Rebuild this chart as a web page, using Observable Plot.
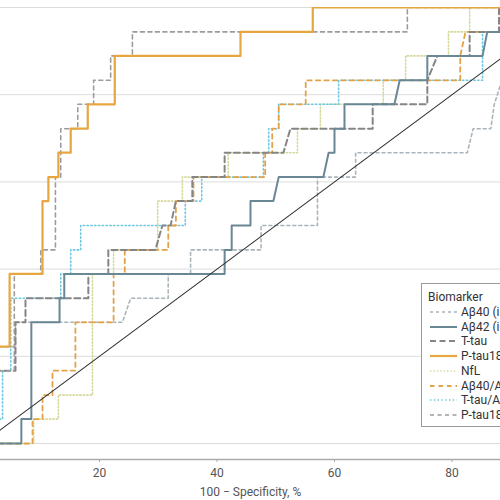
<!DOCTYPE html>
<html>
<head>
<meta charset="utf-8">
<script src="https://cdn.jsdelivr.net/npm/d3@7"></script>
<script src="https://cdn.jsdelivr.net/npm/@observablehq/plot@0.6"></script>
<style>
  html, body { margin: 0; padding: 0; background: #fff; }
  #wrap { position: relative; width: 500px; height: 500px; overflow: hidden; font-family: Roboto, "Open Sans", sans-serif; }
  #legend { position: absolute; left: 421px; top: 283px; width: 150px; height: 144px; border: 1px solid #9a9a9a; background: #fff; box-sizing: border-box; color: #333; font-size: 12px; }
  #legend .title { position: absolute; left: 6px; top: 5px; line-height: 16px; white-space: nowrap; }
  #legend .row { position: absolute; left: 0; height: 14px; line-height: 14px; white-space: nowrap; }
  #legend .row svg { position: absolute; left: 8px; top: 2px; }
  #legend .row span { position: absolute; left: 39px; top: 0; }
</style>
</head>
<body>
<div id="wrap"></div>
<script>
// Biomarker names (legend order)
const biomarkers = ["Aβ40 (immunoassay)", "Aβ42 (immunoassay)", "T-tau", "P-tau181", "NfL", "Aβ40/Aβ42", "T-tau/Aβ42", "P-tau181/Aβ42"];

// ROC curves: 100 - specificity (%) and sensitivity (%) at each vertex
const ab40X = [0,0,2.5,2.5,5.7,5.7,23.9,25.3,31.7,31.7,35.5,35.5,47.5,47.5,57.1,57.1,63.6,63.6,82.6,83.6,86.6,87.2,88.5,90,90,95,95,100];
const ab40Y = [0,11.1,11.1,22.2,22.2,27.8,27.8,33.3,33.3,38.9,38.9,44.4,44.4,50,50,61.1,61.1,66.7,66.7,72.2,72.2,77.8,83.3,83.3,94.4,94.4,100,100];

const ab42X = [0,6.7,6.7,8.4,8.4,13.2,13.2,14,14,41.3,41.3,42.5,42.5,45.7,45.7,49.6,50.5,58.1,59,60,60,61.7,61.7,70.2,71.1,75.8,75.8,85.2,86,90,90,100];
const ab42Y = [0,0,5.6,5.6,27.8,27.8,33.3,33.3,38.9,38.9,44.4,44.4,50,50,55.6,55.6,61.1,61.1,66.7,66.7,72.2,72.2,77.8,77.8,83.3,83.3,88.9,88.9,94.4,94.4,100,100];

const ttauX = [0,0,1.5,1.5,5.7,5.7,7.4,7.4,18.1,18.1,21.5,21.5,29.5,30.7,32.1,33,35.8,35.8,41.3,41.3,51.3,52.5,66.5,66.5,75.8,75.8,77.5,83,83,88,88,100];
const ttauY = [0,11.1,11.1,16.7,16.7,27.8,27.8,33.3,33.3,38.9,38.9,44.4,44.4,50,50,55.6,55.6,61.1,61.1,66.7,66.7,72.2,72.2,77.8,77.8,83.3,88.9,88.9,94.4,94.4,100,100];

const ptauX = [0,0,4.7,4.7,10.3,10.3,11.3,11.3,13,13,15.1,15.1,18,18,22.6,22.6,44,44,56.3,56.3,100];
const ptauY = [0,22.2,22.2,38.9,38.9,55.6,55.6,61.1,61.1,66.7,66.7,72.2,72.2,77.8,77.8,88.9,88.9,94.4,94.4,100,100];

const nflX = [0,8.8,8.8,13,13,18.8,18.8,22.4,22.4,29.9,29.9,34.1,34.1,41.9,41.9,53.7,53.7,57.6,57.6,68.3,68.3,72.1,72.1,79.4,79.4,83,83,100];
const nflY = [0,0,5.6,5.6,11.1,11.1,38.9,38.9,44.4,44.4,55.6,55.6,61.1,61.1,66.7,66.7,72.2,72.2,77.8,77.8,83.3,83.3,88.9,88.9,94.4,94.4,100,100];

const ratio4042X = [0,8.6,8.6,10.3,10.3,12,12,15.9,15.9,22.4,22.4,24.3,24.3,31.7,31.7,33,33,36,36,48.2,48.2,49.4,49.4,50.5,50.5,55.1,55.1,81.4,81.4,82.3,91,91,100];
const ratio4042Y = [0,0,5.6,5.6,11.1,11.1,16.7,16.7,27.8,27.8,38.9,38.9,44.4,44.4,50,50,55.6,55.6,61.1,61.1,66.7,66.7,72.2,72.2,77.8,77.8,83.3,83.3,88.9,94.4,94.4,100,100];

const ttauRatioX = [0,0,3.5,3.5,4.9,4.9,13.4,13.4,15.1,15.1,16.8,16.8,34.6,34.6,37.4,37.4,47.9,47.9,48.8,48.8,50.5,50.5,60.7,60.7,85.2,85.2,89,89,100];
const ttauRatioY = [0,5.6,5.6,16.7,16.7,33.3,33.3,38.9,38.9,44.4,44.4,50,50,55.6,55.6,61.1,61.1,66.7,66.7,72.2,72.2,77.8,77.8,83.3,83.3,94.4,94.4,100,100];

const ptauRatioX = [0,0,5.5,5.5,10,10,12.5,12.5,13.4,13.4,16.3,16.3,19,19,21.9,21.9,25.6,25.6,72.4,72.4,100];
const ptauRatioY = [0,16.7,16.7,38.9,38.9,44.4,44.4,61.1,61.1,72.2,72.2,77.8,77.8,83.3,83.3,88.9,88.9,94.4,94.4,100,100];

// Reference (chance) line
const refX = [0, 100];
const refY = [0, 100];

// Visible x tick labels (0 and 100 fall outside the cropped view)
const xTicks = [20, 40, 60, 80];
const yTicks = [0, 20, 40, 60, 80, 100];

// Line styles per biomarker
const styles = {
  "Aβ40 (immunoassay)": {stroke: "#aab4bb", width: 1.6, dash: "3,3"},
  "Aβ42 (immunoassay)": {stroke: "#6a8796", width: 2, dash: null},
  "T-tau":              {stroke: "#858585", width: 2, dash: "6,3.5"},
  "P-tau181":           {stroke: "#e7a63f", width: 2.2, dash: null},
  "NfL":                {stroke: "#d6d99c", width: 1.6, dash: "1.4,2"},
  "Aβ40/Aβ42":          {stroke: "#e3a248", width: 1.8, dash: "4.5,4"},
  "T-tau/Aβ42":         {stroke: "#6fc6e0", width: 1.6, dash: "1.4,2.4"},
  "P-tau181/Aβ42":      {stroke: "#9c9c9c", width: 1.6, dash: "4,3.5"}
};

function rows(xs, ys) { return xs.map((x, i) => ({x, y: ys[i]})); }
const curves = {
  "Aβ40 (immunoassay)": rows(ab40X, ab40Y),
  "Aβ42 (immunoassay)": rows(ab42X, ab42Y),
  "T-tau": rows(ttauX, ttauY),
  "P-tau181": rows(ptauX, ptauY),
  "NfL": rows(nflX, nflY),
  "Aβ40/Aβ42": rows(ratio4042X, ratio4042Y),
  "T-tau/Aβ42": rows(ttauRatioX, ttauRatioY),
  "P-tau181/Aβ42": rows(ptauRatioX, ptauRatioY)
};

function curveMark(name) {
  const s = styles[name];
  const opts = {x: "x", y: "y", stroke: s.stroke, strokeWidth: s.width, curve: "linear", clip: true};
  if (s.dash) opts.strokeDasharray = s.dash;
  return Plot.line(curves[name], opts);
}

const drawOrder = ["Aβ40 (immunoassay)", "NfL", "T-tau/Aβ42", "Aβ40/Aβ42", "T-tau", "P-tau181/Aβ42", "Aβ42 (immunoassay)"];

const chart = Plot.plot({
  width: 500,
  height: 500,
  marginTop: 7,
  marginBottom: 41,
  marginLeft: 0,
  marginRight: 0,
  style: {fontFamily: "Roboto, 'Open Sans', sans-serif", fontSize: "12px", color: "#555", background: "#fff"},
  x: {domain: [0, 100], range: [-18.5, 569], ticks: xTicks},
  y: {domain: [0, 100], range: [443, 7], axis: null},
  marks: [
    Plot.gridY(yTicks, {stroke: "#dcdcdc", strokeOpacity: 1}),
    Plot.ruleY([0], {dy: 16, stroke: "#aaaaaa", strokeWidth: 1.5}),
    Plot.axisX(xTicks, {tickSize: 3, tickPadding: 6, stroke: "#aaa", fill: "#555",
      label: "100 − Specificity, %", labelAnchor: "center", labelOffset: 36, labelArrow: "none"}),
    ...drawOrder.map(curveMark),
    Plot.line(rows(refX, refY), {x: "x", y: "y", stroke: "#333", strokeWidth: 1.1, clip: true}),
    curveMark("P-tau181")
  ]
});

const wrap = document.getElementById("wrap");
wrap.appendChild(chart);

// Legend
const legend = document.createElement("div");
legend.id = "legend";
const title = document.createElement("div");
title.className = "title";
title.textContent = "Biomarker";
legend.appendChild(title);
biomarkers.forEach((name, i) => {
  const s = styles[name];
  const row = document.createElement("div");
  row.className = "row";
  row.style.top = (21 + i * 14.7) + "px";
  const svg = document.createElementNS("http://www.w3.org/2000/svg", "svg");
  svg.setAttribute("width", 28);
  svg.setAttribute("height", 10);
  const ln = document.createElementNS("http://www.w3.org/2000/svg", "line");
  ln.setAttribute("x1", 0); ln.setAttribute("x2", 27);
  ln.setAttribute("y1", 5); ln.setAttribute("y2", 5);
  ln.setAttribute("stroke", s.stroke);
  ln.setAttribute("stroke-width", s.width);
  if (s.dash) ln.setAttribute("stroke-dasharray", s.dash);
  svg.appendChild(ln);
  row.appendChild(svg);
  const sp = document.createElement("span");
  sp.textContent = name;
  row.appendChild(sp);
  legend.appendChild(row);
});
wrap.appendChild(legend);
</script>
</body>
</html>
